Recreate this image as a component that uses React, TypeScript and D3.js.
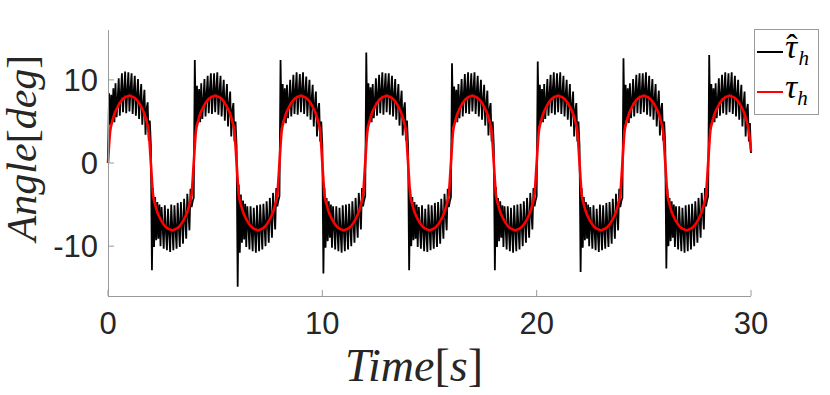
import React from 'react'
import * as d3 from 'd3'

const timeEnd = 30
const xTicks = [0, 10, 20, 30]
const yTicks = [-10, 0, 10]
const yDomain = [-16, 16]

// reference angle tau_h, one sample every 0.1 s
const referenceAngle = [
  0,
  3.8, 5.0, 5.9, 6.5, 7.0, 7.4, 7.7, 7.9, 8.0, 8.1, 8.0, 7.9, 7.7, 7.4, 7.0, 6.5, 5.9, 5.0, 3.8, 0,
  -3.8, -5.0, -5.9, -6.5, -7.0, -7.4, -7.7, -7.9, -8.0, -8.1, -8.0, -7.9, -7.7, -7.4, -7.0, -6.5, -5.9, -5.0, -3.8, 0,
  3.8, 5.0, 5.9, 6.5, 7.0, 7.4, 7.7, 7.9, 8.0, 8.1, 8.0, 7.9, 7.7, 7.4, 7.0, 6.5, 5.9, 5.0, 3.8, 0,
  -3.8, -5.0, -5.9, -6.5, -7.0, -7.4, -7.7, -7.9, -8.0, -8.1, -8.0, -7.9, -7.7, -7.4, -7.0, -6.5, -5.9, -5.0, -3.8, 0,
  3.8, 5.0, 5.9, 6.5, 7.0, 7.4, 7.7, 7.9, 8.0, 8.1, 8.0, 7.9, 7.7, 7.4, 7.0, 6.5, 5.9, 5.0, 3.8, 0,
  -3.8, -5.0, -5.9, -6.5, -7.0, -7.4, -7.7, -7.9, -8.0, -8.1, -8.0, -7.9, -7.7, -7.4, -7.0, -6.5, -5.9, -5.0, -3.8, 0,
  3.8, 5.0, 5.9, 6.5, 7.0, 7.4, 7.7, 7.9, 8.0, 8.1, 8.0, 7.9, 7.7, 7.4, 7.0, 6.5, 5.9, 5.0, 3.8, 0,
  -3.8, -5.0, -5.9, -6.5, -7.0, -7.4, -7.7, -7.9, -8.0, -8.1, -8.0, -7.9, -7.7, -7.4, -7.0, -6.5, -5.9, -5.0, -3.8, 0,
  3.8, 5.0, 5.9, 6.5, 7.0, 7.4, 7.7, 7.9, 8.0, 8.1, 8.0, 7.9, 7.7, 7.4, 7.0, 6.5, 5.9, 5.0, 3.8, 0,
  -3.8, -5.0, -5.9, -6.5, -7.0, -7.4, -7.7, -7.9, -8.0, -8.1, -8.0, -7.9, -7.7, -7.4, -7.0, -6.5, -5.9, -5.0, -3.8, 0,
  3.8, 5.0, 5.9, 6.5, 7.0, 7.4, 7.7, 7.9, 8.0, 8.1, 8.0, 7.9, 7.7, 7.4, 7.0, 6.5, 5.9, 5.0, 3.8, 0,
  -3.8, -5.0, -5.9, -6.5, -7.0, -7.4, -7.7, -7.9, -8.0, -8.1, -8.0, -7.9, -7.7, -7.4, -7.0, -6.5, -5.9, -5.0, -3.8, 0,
  3.8, 5.0, 5.9, 6.5, 7.0, 7.4, 7.7, 7.9, 8.0, 8.1, 8.0, 7.9, 7.7, 7.4, 7.0, 6.5, 5.9, 5.0, 3.8, 0,
  -3.8, -5.0, -5.9, -6.5, -7.0, -7.4, -7.7, -7.9, -8.0, -8.1, -8.0, -7.9, -7.7, -7.4, -7.0, -6.5, -5.9, -5.0, -3.8, 0,
  3.8, 5.0, 5.9, 6.5, 7.0, 7.4, 7.7, 7.9, 8.0, 8.1, 8.0, 7.9, 7.7, 7.4, 7.0, 6.5, 5.9, 5.0, 3.8, 1.4,
]

// measured angle tau_hat_h, one sample every 0.05 s (one row per half period)
const measuredAngle = [
  0.4,
  8.4, 4.6, 8.2, 5.0, 9.0, 4.9, 9.6, 5.5, 7.6, 10.2, 5.7, 8.3, 10.8, 6.1, 8.7, 11.0, 6.0, 8.6, 10.9, 6.2, 8.9, 10.8, 5.9, 8.5, 10.5, 5.7, 8.1, 10.1, 5.3, 7.7, 9.5, 4.6, 7.1, 8.8, 3.4, 6.5, 7.3, 2.7, 5.1, 2.2,
  -12.9, -3.0, -10.1, -4.1, -9.3, -4.7, -9.1, -5.0, -10.0, -5.3, -7.7, -10.3, -5.1, -8.1, -10.5, -5.5, -8.3, -10.7, -5.0, -7.8, -10.5, -5.1, -7.9, -10.3, -4.8, -7.5, -10.1, -4.7, -7.1, -9.7, -4.3, -6.7, -9.1, -3.7, -5.9, -8.1, -3.1, -5.3, -4.6, -4.2,
  12.4, 4.0, 9.3, 5.1, 8.9, 4.9, 9.6, 5.3, 7.5, 10.1, 5.6, 8.2, 10.5, 6.0, 8.7, 10.8, 5.9, 8.4, 10.8, 6.1, 8.8, 10.9, 5.8, 8.4, 10.5, 5.6, 8.1, 10.0, 5.1, 7.6, 9.5, 4.4, 7.0, 8.6, 3.2, 6.3, 7.2, 2.6, 5.0, 2.0,
  -14.9, -2.6, -10.8, -3.8, -9.6, -4.5, -9.2, -4.9, -10.1, -5.2, -7.6, -10.4, -5.2, -8.0, -10.6, -5.4, -8.2, -10.8, -5.1, -7.9, -10.6, -5.0, -7.8, -10.4, -4.9, -7.4, -10.0, -4.6, -7.0, -9.6, -4.2, -6.6, -9.0, -3.6, -5.8, -8.0, -3.0, -5.2, -4.5, -4.0,
  12.4, 4.2, 9.5, 5.0, 9.0, 4.8, 9.4, 5.4, 7.4, 10.0, 5.6, 8.1, 10.6, 5.9, 8.6, 10.9, 5.8, 8.5, 10.7, 6.1, 8.8, 10.9, 5.9, 8.4, 10.4, 5.6, 8.0, 10.0, 5.2, 7.6, 9.4, 4.4, 7.0, 8.6, 3.2, 6.4, 7.2, 2.6, 5.0, 2.1,
  -13.3, -3.0, -10.2, -4.2, -9.4, -4.6, -9.0, -5.0, -10.2, -5.2, -7.6, -10.4, -5.2, -8.0, -10.6, -5.4, -8.2, -10.8, -5.1, -7.9, -10.6, -5.0, -7.8, -10.4, -4.9, -7.4, -10.0, -4.6, -7.0, -9.6, -4.2, -6.6, -9.0, -3.6, -5.8, -8.0, -3.0, -5.2, -4.5, -4.0,
  13.3, 3.8, 9.6, 5.0, 9.1, 4.9, 9.5, 5.4, 7.5, 10.2, 5.7, 8.2, 10.6, 6.0, 8.7, 10.9, 5.8, 8.6, 10.8, 6.1, 8.9, 10.8, 5.8, 8.5, 10.5, 5.6, 8.1, 10.1, 5.2, 7.7, 9.5, 4.5, 7.1, 8.7, 3.3, 6.4, 7.3, 2.7, 5.1, 2.1,
  -12.9, -3.1, -10.0, -4.1, -9.3, -4.7, -9.1, -5.0, -10.1, -5.3, -7.7, -10.3, -5.1, -8.1, -10.6, -5.5, -8.3, -10.7, -5.0, -7.8, -10.5, -5.1, -7.9, -10.3, -4.8, -7.5, -10.1, -4.7, -7.1, -9.7, -4.3, -6.7, -9.1, -3.7, -5.9, -8.1, -3.1, -5.3, -4.6, -4.1,
  12.0, 4.3, 9.2, 5.1, 8.8, 4.9, 9.5, 5.4, 7.6, 10.1, 5.6, 8.2, 10.7, 6.0, 8.6, 10.9, 5.9, 8.5, 10.8, 6.2, 8.8, 10.9, 5.9, 8.4, 10.5, 5.6, 8.1, 10.0, 5.2, 7.6, 9.4, 4.5, 7.0, 8.7, 3.3, 6.4, 7.2, 2.6, 5.0, 2.1,
  -12.9, -2.9, -10.1, -4.2, -9.4, -4.6, -9.0, -5.1, -10.1, -5.2, -7.6, -10.4, -5.2, -8.0, -10.6, -5.4, -8.2, -10.8, -5.1, -7.9, -10.6, -5.0, -7.8, -10.4, -4.9, -7.4, -10.0, -4.6, -7.0, -9.6, -4.2, -6.6, -9.0, -3.6, -5.8, -8.0, -3.0, -5.2, -4.5, -4.0,
  12.2, 4.1, 9.4, 5.0, 8.9, 4.9, 9.5, 5.3, 7.5, 10.1, 5.7, 8.2, 10.6, 6.0, 8.7, 10.9, 5.8, 8.6, 10.8, 6.1, 8.8, 10.9, 5.9, 8.4, 10.5, 5.6, 8.1, 10.0, 5.2, 7.6, 9.5, 4.4, 7.0, 8.6, 3.2, 6.3, 7.2, 2.6, 5.0, 2.0,
  -13.1, -3.0, -10.2, -4.1, -9.3, -4.7, -9.1, -5.0, -10.0, -5.3, -7.7, -10.3, -5.1, -8.1, -10.5, -5.5, -8.3, -10.7, -5.0, -7.8, -10.5, -5.1, -7.9, -10.3, -4.8, -7.5, -10.1, -4.7, -7.1, -9.7, -4.3, -6.7, -9.1, -3.7, -5.9, -8.1, -3.1, -5.3, -4.6, -4.2,
  12.6, 4.0, 9.4, 5.1, 9.0, 4.8, 9.6, 5.4, 7.5, 10.1, 5.6, 8.2, 10.6, 6.0, 8.7, 10.8, 5.9, 8.5, 10.8, 6.1, 8.8, 10.9, 5.8, 8.4, 10.5, 5.6, 8.1, 10.1, 5.2, 7.6, 9.5, 4.4, 7.0, 8.7, 3.3, 6.4, 7.2, 2.7, 5.0, 2.1,
  -12.7, -3.1, -10.0, -4.2, -9.4, -4.6, -9.0, -5.0, -10.1, -5.2, -7.6, -10.4, -5.2, -8.0, -10.6, -5.4, -8.2, -10.8, -5.1, -7.9, -10.6, -5.0, -7.8, -10.4, -4.9, -7.4, -10.0, -4.6, -7.0, -9.6, -4.2, -6.6, -9.0, -3.6, -5.8, -8.0, -3.0, -5.2, -4.5, -4.0,
  13.0, 4.1, 9.5, 5.0, 9.0, 4.9, 9.6, 5.4, 7.5, 10.2, 5.7, 8.2, 10.6, 6.0, 8.7, 10.9, 5.8, 8.6, 10.8, 6.1, 8.9, 10.9, 5.9, 8.5, 10.5, 5.6, 8.1, 10.0, 5.2, 7.6, 9.4, 4.4, 7.0, 8.6, 3.2, 6.3, 7.1, 2.6, 4.8, 1.2,
]

const tickFont = 'Liberation Sans, Arial, Helvetica, sans-serif'
const mathFont = 'Liberation Serif, DejaVu Serif, serif'
const axisColor = '#9a9a9a'
const textColor = '#262626'

export default function App() {
  const width = 830
  const height = 395
  const margin = { top: 30, right: 79, bottom: 99, left: 108 }

  const x = d3.scaleLinear()
    .domain([0, timeEnd])
    .range([margin.left, width - margin.right])

  const y = d3.scaleLinear()
    .domain(yDomain)
    .range([height - margin.bottom, margin.top])

  // samples are evenly spaced over the whole run
  const timeAt = (n: number) => (i: number) => (i * timeEnd) / (n - 1)
  const tMeasured = timeAt(measuredAngle.length)
  const tReference = timeAt(referenceAngle.length)

  const measuredLine = d3.line<number>()
    .x((d, i) => x(tMeasured(i)))
    .y(d => y(d))

  const referenceLine = d3.line<number>()
    .curve(d3.curveMonotoneX)
    .x((d, i) => x(tReference(i)))
    .y(d => y(d))

  const x0 = x(0)
  const yBottom = y(yDomain[0])
  const yTop = y(yDomain[1])

  return (
    <svg
      width={width}
      height={height}
      viewBox={`0 0 ${width} ${height}`}
      style={{ position: 'absolute', left: 0, top: 0, background: '#fff' }}
    >
      {/* data */}
      <path d={measuredLine(measuredAngle) ?? ''} fill="none" stroke="#000" strokeWidth={1.8} />
      <path d={referenceLine(referenceAngle) ?? ''} fill="none" stroke="#ff0000" strokeWidth={2.6} strokeLinejoin="round" />

      {/* y axis */}
      <line x1={x0 + 0.5} x2={x0 + 0.5} y1={yTop} y2={yBottom} stroke={axisColor} strokeWidth={1} />
      {yTicks.map(t => (
        <g key={'y' + t}>
          <line x1={x0} x2={x0 + 6} y1={y(t)} y2={y(t)} stroke={axisColor} strokeWidth={1} />
          <text x={x0 - 10} y={y(t) + 11} textAnchor="end" fontFamily={tickFont} fontSize={31} fill={textColor}>
            {t}
          </text>
        </g>
      ))}

      {/* x axis */}
      <line x1={x0} x2={x(timeEnd)} y1={yBottom + 0.5} y2={yBottom + 0.5} stroke={axisColor} strokeWidth={1} />
      {xTicks.map(t => (
        <g key={'x' + t}>
          <line x1={x(t)} x2={x(t)} y1={yBottom} y2={yBottom - 6} stroke={axisColor} strokeWidth={1} />
          <text x={x(t)} y={yBottom + 38} textAnchor="middle" fontFamily={tickFont} fontSize={31} fill={textColor}>
            {t}
          </text>
        </g>
      ))}

      {/* axis labels */}
      <text x={414} y={381} textAnchor="middle" fontFamily={mathFont} fontSize={46} fill={textColor}>
        <tspan fontStyle="italic">Time</tspan>[<tspan fontStyle="italic">s</tspan>]
      </text>
      <text
        transform="translate(36, 148) rotate(-90)"
        textAnchor="middle"
        fontFamily={mathFont}
        fontSize={42}
        fill={textColor}
      >
        <tspan fontStyle="italic">Angle</tspan>[<tspan fontStyle="italic">deg</tspan>]
      </text>

      {/* legend */}
      <rect x={754.5} y={29.5} width={64} height={85} fill="#fff" stroke={axisColor} strokeWidth={1} />
      <line x1={757} x2={783} y1={52} y2={52} stroke="#000" strokeWidth={2} />
      <text x={785} y={58} fontFamily={mathFont} fontSize={34} fill="#000">
        <tspan fontStyle="italic">τ</tspan>
        <tspan dx={-11}>ˆ</tspan>
        <tspan fontStyle="italic" fontSize={21} dx={1} dy={7}>h</tspan>
      </text>
      <line x1={757} x2={783} y1={92} y2={92} stroke="#ff0000" strokeWidth={2} />
      <text x={785} y={98} fontFamily={mathFont} fontSize={34} fill="#000">
        <tspan fontStyle="italic">τ</tspan>
        <tspan fontStyle="italic" fontSize={21} dy={7}>h</tspan>
      </text>
    </svg>
  )
}
